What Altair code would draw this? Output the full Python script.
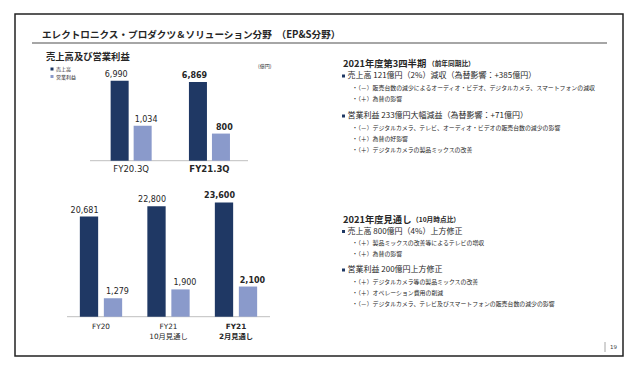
import altair as alt
import pandas as pd

# ---------------- data ----------------
series = ["売上高", "営業利益"]
top_categories = ["FY20.3Q", "FY21.3Q"]
top_sales = [6990, 6869]
top_income = [1034, 800]
bottom_categories = ["FY20", "FY21\n10月見通し", "FY21\n2月見通し"]
bottom_sales = [20681, 22800, 23600]
bottom_income = [1279, 1900, 2100]

colors = ["#1f3864", "#8a9acb"]
JP = "Noto Sans CJK JP"
NUM = "DejaVu Sans, Noto Sans CJK JP"
INK = "#262626"


def make_df(cats, sales, income):
    rows = []
    for i, c in enumerate(cats):
        b = 1 if i == len(cats) - 1 else 0
        rows.append(dict(cat=c, series=series[0], value=sales[i], bold=b))
        rows.append(dict(cat=c, series=series[1], value=income[i], bold=b))
    return pd.DataFrame(rows)


df_top = make_df(top_categories, top_sales, top_income)
df_bot = make_df(bottom_categories, bottom_sales, bottom_income)

# page margin: reference pixel -> chart pixel
def px(x):
    return x - 8


def py(y):
    return y - 8


dummy = pd.DataFrame({"d": [0]})


def panel(df, cats, xrange, pad_in, pad_out, domains, yranges,
          label_y, label_size, label_baseline, lh):
    layers = []
    xs = alt.Scale(domain=cats, range=xrange, paddingInner=0, paddingOuter=0)
    xo = alt.Scale(domain=series, paddingInner=pad_in, paddingOuter=pad_out)
    for k, s in enumerate(series):
        ys = alt.Scale(domain=domains[k], range=yranges[k], nice=False, zero=True)
        base = alt.Chart(df).transform_filter(alt.datum.series == s)
        enc = dict(
            x=alt.X("cat:N", scale=xs, axis=None),
            xOffset=alt.XOffset("series:N", scale=xo),
            y=alt.Y("value:Q", scale=ys, axis=None),
        )
        layers.append(base.mark_bar(color=colors[k]).encode(**enc))
        for b in [0, 1]:
            layers.append(
                base.transform_filter(alt.datum.bold == b)
                .mark_text(font=NUM, fontSize=8, color=INK, baseline="alphabetic",
                           dy=-4, fontWeight="bold" if b else "normal")
                .encode(**enc, text=alt.Text("value:Q", format=","))
            )
    cat_df = df[df["series"] == series[0]]
    for b in [0, 1]:
        layers.append(
            alt.Chart(cat_df).transform_filter(alt.datum.bold == b)
            .mark_text(font=NUM, fontSize=label_size, color=INK, baseline=label_baseline,
                       lineBreak="\n", lineHeight=lh,
                       fontWeight="bold" if b else "normal")
            .encode(x=alt.X("cat:N", scale=xs, axis=None),
                    y=alt.value(py(label_y)), text="cat:N")
        )
    return layers


def txt(s, x, y, size, weight="normal", color=INK, font=JP, align="left", baseline="middle"):
    return alt.Chart(dummy).mark_text(
        fontSize=size, fontWeight=weight, color=color, font=font, align=align, baseline=baseline
    ).encode(x=alt.value(px(x)), y=alt.value(py(y)), text=alt.value(s))


def hrule(x1, x2, y, color, w):
    return alt.Chart(dummy).mark_rule(color=color, strokeWidth=w).encode(
        x=alt.value(px(x1)), x2=alt.value(px(x2)), y=alt.value(py(y)))


def vrule(x, y1, y2, color, w):
    return alt.Chart(dummy).mark_rule(color=color, strokeWidth=w).encode(
        x=alt.value(px(x)), y=alt.value(py(y1)), y2=alt.value(py(y2)))


def square(x, y, color, size=10):
    return alt.Chart(dummy).mark_square(color=color, size=size, opacity=1).encode(
        x=alt.value(px(x)), y=alt.value(py(y)))


layers = []

# frame
layers.append(
    alt.Chart(dummy).mark_rect(fillOpacity=0, stroke="#222222", strokeWidth=1.5).encode(
        x=alt.value(px(15)), x2=alt.value(px(623)), y=alt.value(py(14)), y2=alt.value(py(356)))
)
# title
layers.append(txt("エレクトロニクス・プロダクツ＆ソリューション分野　（EP&S分野）", 42, 34.5, 9.6, "bold"))
layers.append(hrule(32, 607, 43, "#a6a6a6", 2))
layers.append(txt("売上高及び営業利益", 46, 57, 9.3, "bold"))

# legend
layers.append(square(52, 69, colors[0], 9))
layers.append(txt("売上高", 56, 69, 5))
layers.append(square(52, 76.5, colors[1], 9))
layers.append(txt("営業利益", 56, 76.5, 5))
layers.append(txt("(億円)", 258, 66, 5))

# baselines
layers.append(hrule(90, 248, 160.7, "#bfbfbf", 1))
layers.append(hrule(67, 270, 316.7, "#bfbfbf", 1))

# top panel (3Q)
layers += panel(
    df_top, top_categories, [px(92), px(248.6)], 0.217, 0.81,
    [[0, 10000], [0, 3000]],
    [[py(160.7), py(160.7 - 114.5)], [py(160.7), py(160.7 - 101.7)]],
    169, 8.5, "middle", 10,
)
# bottom panel (full year)
layers += panel(
    df_bot, bottom_categories, [px(67.25), px(269.75)], 0.2375, 0.525,
    [[0, 30000], [0, 3000]],
    [[py(316.7), py(316.7 - 145.2)], [py(316.7), py(316.7 - 43.1)]],
    322.5, 7.3, "top", 10.5,
)

# right-hand text, block 1
layers.append(txt("2021年度第3四半期", 343, 63.5, 9.3, "bold"))
layers.append(txt("（前年同期比）", 428, 64, 6.7, "bold"))
layers.append(square(343.5, 76, colors[0], 9))
layers.append(txt("売上高 121億円（2%）減収（為替影響：+385億円）", 347.5, 76, 8))
layers.append(txt("・（－）販売台数の減少によるオーディオ・ビデオ、デジタルカメラ、スマートフォンの減収", 352, 87.5, 5.9))
layers.append(txt("・（＋）為替の影響", 352, 98.5, 5.9))
layers.append(square(343.5, 116, colors[0], 9))
layers.append(txt("営業利益  233億円大幅減益（為替影響：+71億円）", 347.5, 116, 8))
layers.append(txt("・（－）デジタルカメラ、テレビ、オーディオ・ビデオの販売台数の減少の影響", 352, 127.5, 5.9))
layers.append(txt("・（＋）為替の好影響", 352, 138.5, 5.9))
layers.append(txt("・（＋）デジタルカメラの製品ミックスの改善", 352, 149.5, 5.9))

# right-hand text, block 2
layers.append(txt("2021年度見通し", 343, 219.5, 9.3, "bold"))
layers.append(txt("（10月時点比）", 412, 220, 6.7, "bold"))
layers.append(square(343.5, 231.5, colors[0], 9))
layers.append(txt("売上高  800億円（4%）上方修正", 347.5, 231.5, 8))
layers.append(txt("・（＋）製品ミックスの改善等によるテレビの増収", 352, 242.5, 5.9))
layers.append(txt("・（＋）為替の影響", 352, 253.5, 5.9))
layers.append(square(343.5, 270, colors[0], 9))
layers.append(txt("営業利益  200億円上方修正", 347.5, 270, 8))
layers.append(txt("・（＋）デジタルカメラ等の製品ミックスの改善", 352, 281.5, 5.9))
layers.append(txt("・（＋）オペレーション費用の削減", 352, 292.5, 5.9))
layers.append(txt("・（－）デジタルカメラ、テレビ及びスマートフォンの販売台数の減少の影響", 352, 303.5, 5.9))

# page number
layers.append(vrule(605, 342, 352, "#a6a6a6", 1))
layers.append(txt("19", 610, 347, 5.5, color="#404040", font="DejaVu Sans"))

chart = (
    alt.layer(*layers)
    .resolve_scale(x="independent", y="independent", xOffset="independent")
    .properties(width=624, height=354, padding=0,
                autosize=alt.AutoSizeParams(type="none"), background="white")
    .configure_view(stroke=None)
)

chart.save("out.html", embed_options={"renderer": "svg", "actions": False})
